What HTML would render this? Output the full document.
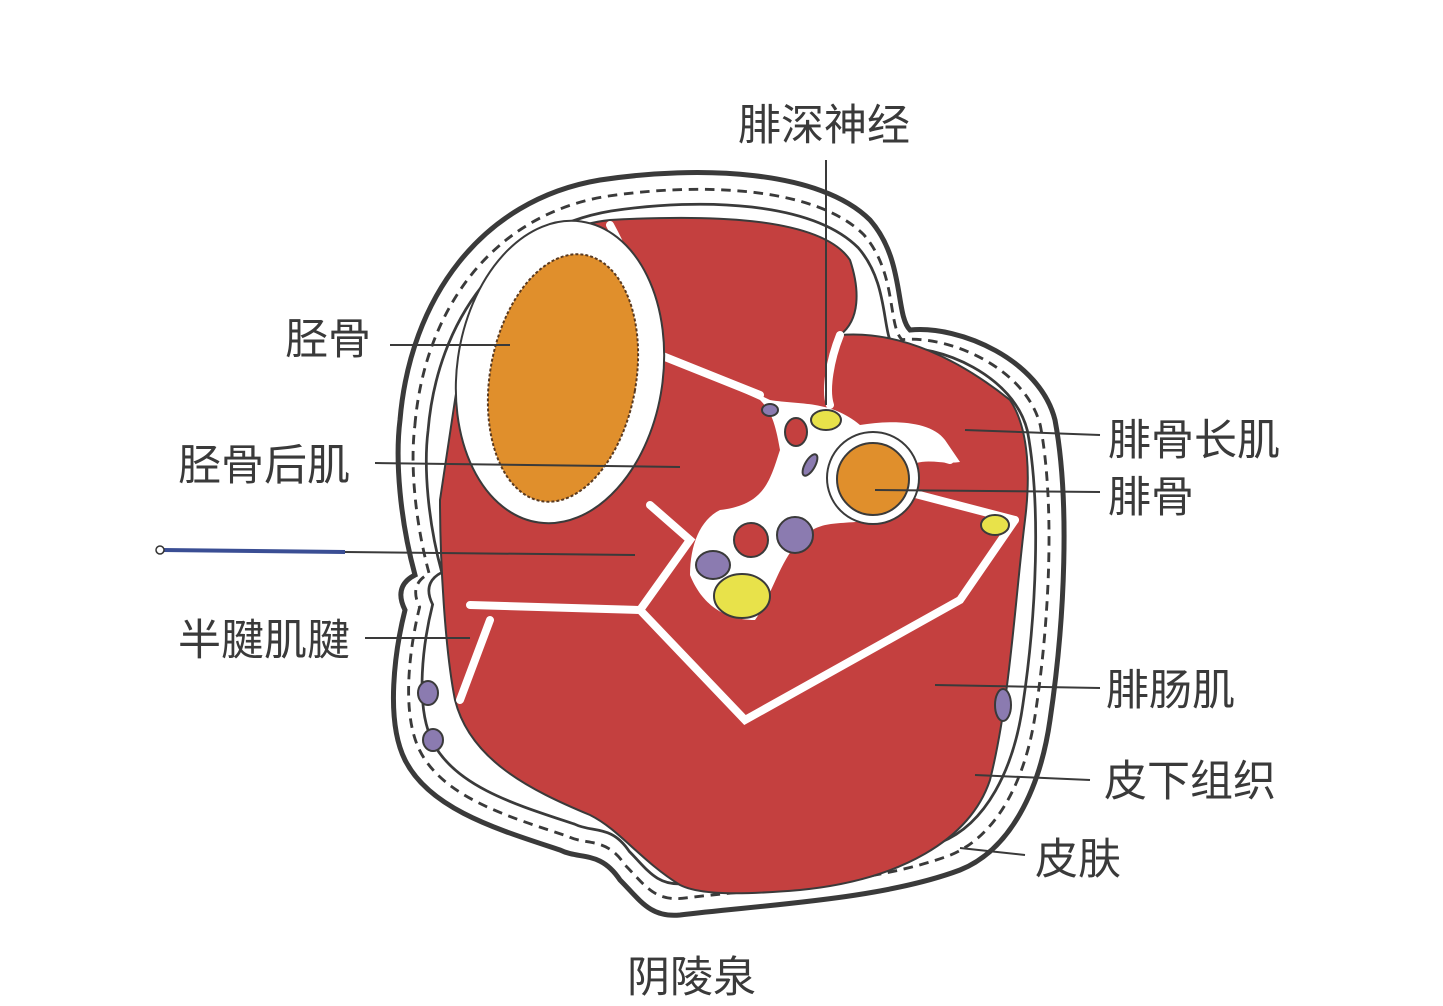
<!DOCTYPE html>
<html><head><meta charset="utf-8"><style>
html,body{margin:0;padding:0;background:#fff;}
svg{display:block;}
text{font-family:"Liberation Sans","Noto Sans CJK SC",sans-serif;font-size:43px;fill:#3a3a3a;}
</style></head><body>
<svg width="1443" height="1006" viewBox="0 0 1443 1006" xmlns="http://www.w3.org/2000/svg">
<rect width="1443" height="1006" fill="#fff"/>
<path d="M400,420 C410,300 480,200 600,180 C700,165 820,170 870,220 C905,260 895,315 910,330 C960,325 1040,360 1055,420 C1070,500 1065,620 1050,720 C1040,790 1010,850 960,870 C880,900 760,905 680,915 C650,918 640,900 620,880 C600,850 580,860 560,850 C500,830 430,810 405,760 C385,720 395,650 405,610 C395,590 405,580 415,575 C400,520 395,460 400,420 Z" fill="#fff" stroke="#3a3a3a" stroke-width="5"/>
<path d="M400,420 C410,300 480,200 600,180 C700,165 820,170 870,220 C905,260 895,315 910,330 C960,325 1040,360 1055,420 C1070,500 1065,620 1050,720 C1040,790 1010,850 960,870 C880,900 760,905 680,915 C650,918 640,900 620,880 C600,850 580,860 560,850 C500,830 430,810 405,760 C385,720 395,650 405,610 C395,590 405,580 415,575 C400,520 395,460 400,420 Z" fill="#fff" stroke="#3a3a3a" stroke-width="3" transform="translate(730,545) scale(0.955) translate(-730,-545)" stroke-dasharray="10 7"/>
<path d="M400,420 C410,300 480,200 600,180 C700,165 820,170 870,220 C905,260 895,315 910,330 C960,325 1040,360 1055,420 C1070,500 1065,620 1050,720 C1040,790 1010,850 960,870 C880,900 760,905 680,915 C650,918 640,900 620,880 C600,850 580,860 560,850 C500,830 430,810 405,760 C385,720 395,650 405,610 C395,590 405,580 415,575 C400,520 395,460 400,420 Z" fill="#fff" stroke="#3a3a3a" stroke-width="3" transform="translate(730,545) scale(0.915) translate(-730,-545)"/>
<path d="M455,400 C470,300 520,230 610,220 C700,215 820,215 850,260 C860,290 860,320 840,335 C900,330 960,360 1010,400 C1030,430 1030,480 1025,520 C1015,600 1010,700 990,780 C970,840 900,880 800,890 C740,895 700,895 680,885 C640,860 620,830 590,815 C530,790 470,760 455,700 C445,650 440,560 440,500 Z" fill="#c4403f" stroke="#3a3a3a" stroke-width="2"/>
<g stroke="#fff" stroke-width="8" fill="none" stroke-linecap="round">
<path d="M610,225 C640,280 650,330 660,355 L760,395"/>
<path d="M840,335 C830,360 825,390 830,405"/>
<path d="M650,505 L690,540 L640,610 L745,720 L960,600 L1015,520"/>
<path d="M470,605 L640,610"/>
<path d="M460,700 L490,620"/>
<path d="M900,490 L1015,520"/>
<path d="M880,440 L950,460"/>
</g>
<path d="M660,355 C700,370 740,385 770,400 C800,405 830,400 860,425 C890,420 930,420 945,440 L960,462 C940,465 920,455 905,470 L880,520 C830,525 820,520 800,540 C780,560 770,600 755,620 C720,620 700,600 690,575 C690,545 700,520 720,510 C765,505 770,480 780,450 C775,420 770,410 760,400 Z" fill="#fff"/>
<ellipse cx="560" cy="372" rx="103" ry="152" transform="rotate(8 560 372)" fill="#fff" stroke="#3a3a3a" stroke-width="2"/>
<ellipse cx="563" cy="378" rx="73" ry="125" transform="rotate(10 563 378)" fill="#e08f2c" stroke="#5a3a20" stroke-width="2" stroke-dasharray="3 2"/>
<circle cx="873" cy="478" r="46" fill="#fff" stroke="#3a3a3a" stroke-width="2"/>
<circle cx="873" cy="479" r="36" fill="#e08f2c" stroke="#3a3a3a" stroke-width="2"/>
<g stroke="#3a3a3a" stroke-width="2">
<ellipse cx="742" cy="596" rx="28" ry="22" fill="#e8e24a"/>
<ellipse cx="826" cy="420" rx="15" ry="10" fill="#e8e24a"/>
<ellipse cx="995" cy="525" rx="14" ry="10" fill="#e8e24a"/>
<circle cx="751" cy="540" r="17" fill="#c4403f"/>
<ellipse cx="796" cy="432" rx="11" ry="14" fill="#c4403f"/>
<ellipse cx="713" cy="565" rx="17" ry="14" fill="#8b7bb0"/>
<ellipse cx="795" cy="535" rx="18" ry="18" fill="#8b7bb0"/>
<ellipse cx="810" cy="465" rx="5" ry="12" transform="rotate(30 810 465)" fill="#8b7bb0"/>
<ellipse cx="770" cy="410" rx="8" ry="6" fill="#8b7bb0"/>
<ellipse cx="428" cy="693" rx="10" ry="12" fill="#8b7bb0"/>
<ellipse cx="433" cy="740" rx="10" ry="11" fill="#8b7bb0"/>
<ellipse cx="1003" cy="705" rx="8" ry="16" fill="#8b7bb0"/>
</g>
<g stroke="#3a3a3a" stroke-width="2">
<line x1="390" y1="345" x2="510" y2="345"/>
<line x1="375" y1="463" x2="680" y2="467"/>
<line x1="365" y1="638" x2="470" y2="638"/>
<line x1="345" y1="552" x2="635" y2="555"/>
<line x1="826" y1="160" x2="826" y2="405"/>
<line x1="1100" y1="435" x2="965" y2="430"/>
<line x1="1100" y1="492" x2="875" y2="490"/>
<line x1="1100" y1="688" x2="935" y2="685"/>
<line x1="1090" y1="780" x2="975" y2="775"/>
<line x1="1025" y1="855" x2="960" y2="848"/>
</g>
<line x1="162" y1="550" x2="345" y2="552" stroke="#3a4e94" stroke-width="4"/>
<circle cx="160" cy="550" r="4" fill="#fff" stroke="#333" stroke-width="1.5"/>
<text x="738" y="140">腓深神经</text>
<text x="285" y="354">胫骨</text>
<text x="178" y="480">胫骨后肌</text>
<text x="178" y="655">半腱肌腱</text>
<text x="1108" y="455">腓骨长肌</text>
<text x="1108" y="512">腓骨</text>
<text x="1106" y="705">腓肠肌</text>
<text x="1104" y="796">皮下组织</text>
<text x="1035" y="874">皮肤</text>
<text x="627" y="992">阴陵泉</text>
</svg>
</body></html>
